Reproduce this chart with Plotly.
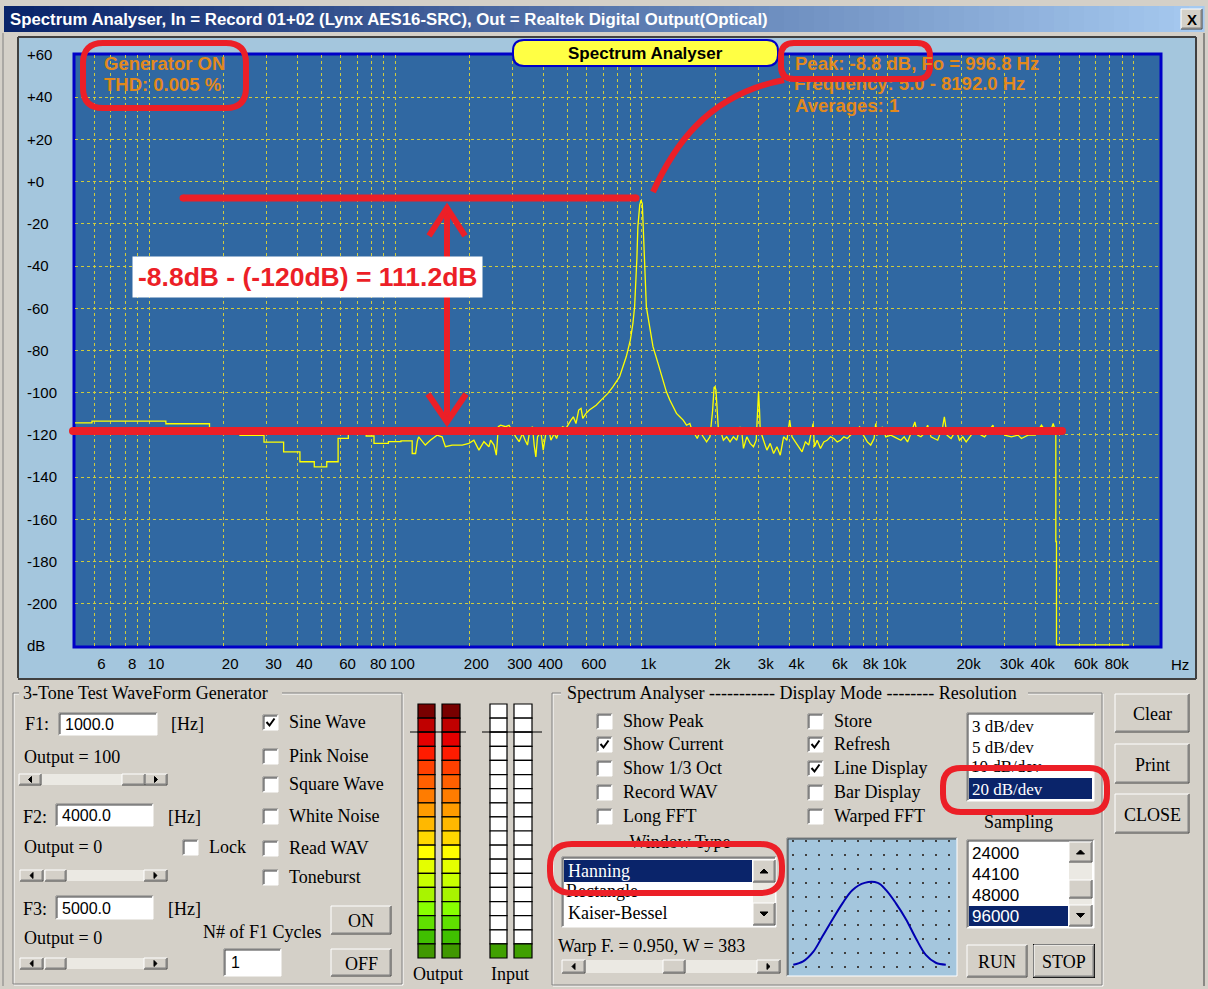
import plotly.graph_objects as go

W, H = 1208, 989

# ---------------- data ----------------
freq_hz = [
    5.0, 5.86, 5.86, 11.7, 11.7, 17.6, 17.6, 23.4, 23.4, 29.3, 29.3, 35.2, 35.2, 41.0, 41.0, 46.9,
    46.9, 52.7, 52.7, 58.6, 58.6, 64.5, 64.5, 76.2, 76.2, 82.0, 82.0, 93.8, 93.8, 105.5, 105.5, 117.2,
    117.2, 121.0, 123.0,
    124.5, 132.5, 138.9, 147.9, 155.0, 159.9, 170.3, 187.1, 199.2, 208.7, 218.8, 229.3, 240.3, 244.1,
    251.9, 257.5, 262.4, 268.2, 281.1, 290.0, 299.2, 308.9, 318.7, 328.8, 337.2, 344.6, 352.3, 361.2,
    366.9, 372.7, 378.6, 390.6, 399.3, 409.4, 419.8, 429.1, 442.8, 452.4, 464.0, 478.7, 494.0, 506.5,
    517.7, 529.2, 542.6, 556.4, 568.8, 578, 596, 615, 655, 686, 731, 766, 815, 868, 902, 924, 939, 959,
    968, 985, 996.8, 1009, 1015, 1031, 1048, 1081, 1115, 1169, 1225, 1264, 1305, 1346, 1389, 1433,
    1479, 1526, 1574, 1599, 1640, 1687, 1730, 1790, 1841, 1900, 1948, 1975, 1991, 2010, 2035, 2055,
    2087, 2154, 2222, 2293, 2366, 2441, 2519, 2559, 2599, 2682, 2767, 2855, 2928, 2965, 2993, 3021,
    3040, 3136, 3236, 3339, 3446, 3555, 3668, 3785, 3905, 4005, 4093, 4223, 4358, 4497, 4640, 4787,
    4986, 5050, 5178, 5343, 5512, 5688, 5869, 6055, 6248, 6447, 6652, 6864, 7082, 7308, 7707, 7903,
    8283, 8547, 8819, 8958, 9100, 9390, 9538, 9842, 10320, 10648, 10982, 11331, 11691, 12064, 12447,
    12922, 13252, 13674, 14109, 14557, 15020, 15993, 16759, 17024, 17454, 18125, 19001, 19607, 20230,
    20874, 21878, 22573, 24039, 24802, 26821, 27246, 29007, 29929, 31859, 33919, 34998, 37265, 39672,
    42234, 43575, 45674, 47124, 47868, 48300, 48300, 48600, 48600, 96000,
]
level_db = [
    -114.3, -114.3, -113.5, -113.5, -114.7, -114.7, -119.0, -119.0, -120.2, -120.2, -123.4, -123.4,
    -128.0, -128.0, -132.7, -132.7, -135.1, -135.1, -132.7, -132.7, -121.6, -121.6, -119.2, -119.2,
    -120.5, -120.5, -124.0, -124.0, -123.2, -123.2, -122.8, -122.8, -128.8, -128.8, -123.0,
    -120.9, -124.8, -122.5, -120.1, -120.9, -125.6, -124.8, -124.8, -124.0, -122.5, -127.2, -123.2,
    -125.6, -122.5, -124.8, -129.6, -116.1, -115.4, -116.1, -115.4, -118.5, -120.9, -123.2, -119.3,
    -122.5, -124.8, -117.7, -116.1, -124.8, -130.4, -120.9, -118.5, -127.2, -119.3, -116.9, -122.5,
    -119.3, -121.7, -117.7, -116.1, -116.9, -114.6, -113.0, -111.4, -114.6, -108.2, -107.4, -112.2,
    -109.8, -108.2, -105.9, -103.5, -100.3, -97.2, -92.5, -83.0, -75.1, -67.2, -59.3, -36.4, -21.4,
    -11.0, -8.8, -10.5, -19.0, -35.6, -59.3, -68.8, -78.2, -86.1, -94.8, -99.6, -103.5, -106.7, -109.8,
    -111.4, -113.0, -115.4, -114.6, -117.0, -119.5, -121.7, -118.5, -121.0, -123.3, -120.9, -108.3,
    -97.5, -97.2, -98.8, -108.3, -117.0, -117.0, -122.5, -120.9, -123.3, -120.9, -122.5, -116.2,
    -118.5, -126.4, -120.9, -124.0, -125.6, -122.5, -112.2, -99.6, -108.3, -117.7, -122.5, -127.2,
    -124.0, -128.8, -125.6, -129.6, -120.9, -122.5, -113.0, -120.9, -123.3, -125.6, -128.0, -123.3,
    -124.8, -114.6, -125.6, -122.5, -126.4, -123.3, -122.5, -120.9, -121.7, -123.3, -122.5, -120.9,
    -121.7, -120.1, -118.5, -116.2, -119.3, -123.3, -124.8, -121.7, -114.6, -120.1, -117.7, -116.2,
    -120.9, -120.1, -120.9, -121.7, -122.5, -120.9, -123.3, -119.3, -113.8, -120.1, -120.9, -119.3,
    -115.4, -120.9, -122.5, -116.2, -111.4, -120.1, -121.7, -117.7, -122.5, -120.9, -123.3, -120.1,
    -116.9, -120.1, -120.9, -115.4, -119.3, -116.9, -120.1, -120.9, -120.1, -121.7, -120.1, -120.1,
    -115.4, -117.7, -119.3, -114.6, -118.5, -119.0, -170.5, -170.5, -219.5, -219.5,
]

grid_freqs = [5, 6, 7, 8, 9, 10, 20, 30, 40, 50, 60, 70, 80, 90, 100, 200, 300, 400, 500, 600, 700,
              800, 900, 1000, 2000, 3000, 4000, 5000, 6000, 7000, 8000, 9000, 10000, 20000, 30000,
              40000, 50000, 60000, 70000, 80000, 90000, 100000]
freq_labels = {6: "6", 8: "8", 10: "10", 20: "20", 30: "30", 40: "40", 60: "60", 80: "80",
               100: "100", 200: "200", 300: "300", 400: "400", 600: "600", 1000: "1k",
               2000: "2k", 3000: "3k", 4000: "4k", 6000: "6k", 8000: "8k", 10000: "10k",
               20000: "20k", 30000: "30k", 40000: "40k", 60000: "60k", 80000: "80k"}
db_ticks = [-220, -200, -180, -160, -140, -120, -100, -80, -60, -40, -20, 0, 20, 40, 60]
db_labels = ["dB", "-200", "-180", "-160", "-140", "-120", "-100", "-80", "-60", "-40", "-20",
             "+0", "+20", "+40", "+60"]

window_pos = [0.02, 0.08, 0.14, 0.20, 0.26, 0.32, 0.38, 0.455, 0.535, 0.586, 0.646, 0.707, 0.768,
              0.828, 0.889, 0.95]
window_gain = [0.055, 0.08, 0.15, 0.274, 0.40, 0.52, 0.62, 0.675, 0.675, 0.62, 0.52, 0.40, 0.254,
               0.13, 0.07, 0.055]

output_meter_colors = ["#780000", "#c00000", "#e40000", "#ff1c00", "#ff4000", "#ff6000", "#ff7c00",
                       "#ff9c00", "#ffb800", "#ffd800", "#ffff00", "#e4ff00", "#c8ff00", "#a8f400",
                       "#88ff00", "#60e000", "#40c000", "#409800"]
input_meter_colors = ["#ffffff"] * 17 + ["#40a000"]

TITLE = "Spectrum Analyser, In = Record 01+02 (Lynx AES16-SRC), Out = Realtek Digital Output(Optical)"

# ---------------- helpers ----------------
SANS = "Liberation Sans, Arial, sans-serif"
SERIF = "Liberation Serif, Times New Roman, serif"
FACE = "#d4d0c8"
PANEL = "#a4c6dd"
RED = "#ec1f27"
ORANGE = "#e2891c"
NAVY = "#0a246a"
GRID = "#cfcb3e"

shapes, annotations = [], []


def X(x):
    return x / W


def Y(y):
    return 1 - y / H


def pth(d):
    res, cur = [], []
    for t in d.replace(",", " ").split():
        if t[0].isalpha():
            res.append(t)
        else:
            cur.append(float(t))
            if len(cur) == 2:
                res.append(f"{X(cur[0]):.5f},{Y(cur[1]):.5f}")
                cur = []
    return " ".join(res)


def rect(x0, y0, x1, y1, fill="rgba(0,0,0,0)", line=None, lw=1, layer="below"):
    shapes.append(dict(type="rect", xref="paper", yref="paper", x0=X(x0), x1=X(x1), y0=Y(y1),
                       y1=Y(y0), fillcolor=fill,
                       line=dict(color=line if line else "rgba(0,0,0,0)", width=lw if line else 0),
                       layer=layer))


def seg(x0, y0, x1, y1, color, lw=1, layer="below"):
    shapes.append(dict(type="line", xref="paper", yref="paper", x0=X(x0), y0=Y(y0), x1=X(x1),
                       y1=Y(y1), line=dict(color=color, width=lw), layer=layer))


def path(d, color="black", lw=1, fill=None, layer="below"):
    shapes.append(dict(type="path", xref="paper", yref="paper", path=pth(d),
                       line=dict(color=color, width=lw),
                       fillcolor=fill if fill else "rgba(0,0,0,0)", layer=layer))


def circ(cx, cy, r, color, layer="above"):
    shapes.append(dict(type="circle", xref="paper", yref="paper", x0=X(cx - r), x1=X(cx + r),
                       y0=Y(cy + r), y1=Y(cy - r), fillcolor=color, line=dict(width=0),
                       layer=layer))


def rrect_d(x0, y0, x1, y1, r):
    return (f"M {x0 + r} {y0} L {x1 - r} {y0} Q {x1} {y0} {x1} {y0 + r} L {x1} {y1 - r} "
            f"Q {x1} {y1} {x1 - r} {y1} L {x0 + r} {y1} Q {x0} {y1} {x0} {y1 - r} "
            f"L {x0} {y0 + r} Q {x0} {y0} {x0 + r} {y0} Z")


def txt(x, y, s, size=18, color="black", family=SERIF, anchor="left", bold=False):
    annotations.append(dict(xref="paper", yref="paper", x=X(x), y=Y(y),
                            text=f"<b>{s}</b>" if bold else s, showarrow=False, xanchor=anchor,
                            yanchor="middle", borderpad=0,
                            font=dict(size=size, color=color, family=family)))


def raised(x0, y0, x1, y1, default=False):
    if default:
        rect(x0 - 1, y0 - 1, x1 + 1, y1 + 1, fill="black")
    rect(x0, y0, x1, y1, fill=FACE)
    seg(x0, y0, x1, y0, "white")
    seg(x0, y0, x0, y1, "white")
    seg(x0, y1, x1, y1, "#404040")
    seg(x1, y0, x1, y1, "#404040")
    seg(x0 + 1, y1 - 1, x1 - 1, y1 - 1, "#808080")
    seg(x1 - 1, y0 + 1, x1 - 1, y1 - 1, "#808080")


def sunken(x0, y0, x1, y1, fill="white"):
    rect(x0, y0, x1, y1, fill=fill)
    seg(x0, y0, x1, y0, "#808080")
    seg(x0, y0, x0, y1, "#808080")
    seg(x0 + 1, y0 + 1, x1 - 1, y0 + 1, "#404040")
    seg(x0 + 1, y0 + 1, x0 + 1, y1 - 1, "#404040")
    seg(x0, y1, x1, y1, "white")
    seg(x1, y0, x1, y1, "white")


def button(x0, y0, x1, y1, label, default=False):
    raised(x0, y0, x1, y1, default)
    txt((x0 + x1) / 2, (y0 + y1) / 2 + 1, label, 18, anchor="center")


def checkbox(x, yc, label, checked=False):
    sunken(x, yc - 7, x + 15, yc + 8)
    if checked:
        path(f"M {x + 3.5} {yc} L {x + 6.5} {yc + 3.5} L {x + 11.5} {yc - 3.5}", "black", 2)
    txt(x + 25, yc, label, 18)


def arrow_btn(x0, y0, x1, y1, direction):
    raised(x0, y0, x1, y1)
    cx, cy = (x0 + x1) / 2, (y0 + y1) / 2
    if direction == "left":
        d = f"M {cx + 1.5} {cy - 3} L {cx - 1.5} {cy} L {cx + 1.5} {cy + 3} Z"
    elif direction == "right":
        d = f"M {cx - 1.5} {cy - 3} L {cx + 1.5} {cy} L {cx - 1.5} {cy + 3} Z"
    elif direction == "up":
        d = f"M {cx - 4} {cy + 2} L {cx} {cy - 2} L {cx + 4} {cy + 2} Z"
    else:
        d = f"M {cx - 4} {cy - 2} L {cx} {cy + 2} L {cx + 4} {cy - 2} Z"
    path(d, "black", 1, "black")


def hslider(x0, x1, y0, y1, t0, t1, bw):
    rect(x0, y0, x1, y1, fill="#ebe9e3")
    arrow_btn(x0, y0, x0 + bw, y1, "left")
    arrow_btn(x1 - bw, y0, x1, y1, "right")
    raised(t0, y0, t1, y1)


def group(x0, y0, x1, y1, tx0, tx1):
    rect(x0 + 1, y0 + 1, x1 + 1, y1 + 1, line="white")
    rect(x0, y0, x1, y1, line="#808080")
    rect(tx0, y0 - 9, tx1, y0 + 9, fill=FACE)


# ---------------- window chrome ----------------
n_strips = 80
c0, c1 = (10, 36, 106), (166, 202, 240)
for i in range(n_strips):
    t = i / (n_strips - 1)
    col = "rgb({},{},{})".format(*[int(a + (b - a) * t) for a, b in zip(c0, c1)])
    xa = 4 + 1200 * i / n_strips
    rect(xa, 6, xa + 1200 / n_strips + 0.6, 32, fill=col)
txt(9, 19.5, TITLE, 16.8, "white", SANS, bold=True)
raised(1181, 9, 1202, 29)
txt(1191.5, 19.5, "X", 15, "black", SANS, anchor="center", bold=True)
seg(3, 33, 3, 986, "#808080")
seg(1204, 33, 1204, 986, "#404040")

# chart panel
rect(18, 37, 1196, 678, fill=PANEL)
seg(18, 37, 1196, 37, "#404040", 2)
seg(18, 37, 18, 678, "#404040", 2)
seg(1196, 37, 1196, 679, "#404040", 2)
seg(18, 679, 1196, 679, "#404040", 2)

# plot area
rect(75, 55, 1160, 646, fill="#3068a2")
rect(74, 54, 1161, 647, line="#0000c8", lw=3)

# ---------------- bottom: generator group ----------------
group(13, 693, 402, 984, 19, 282)
txt(22, 693, "3-Tone Test WaveForm Generator", 18)
txt(24, 724, "F1:", 18)
sunken(59, 713, 157, 735)
txt(64, 724, "1000.0", 16, family=SANS)
txt(170, 724, "[Hz]", 18)
txt(23, 757, "Output = 100", 18)
hslider(19, 167, 774, 785, 122, 145, 22)
txt(22, 817, "F2:", 18)
sunken(56, 804, 153, 826)
txt(61, 815, "4000.0", 16, family=SANS)
txt(167, 817, "[Hz]", 18)
txt(23, 847, "Output = 0", 18)
checkbox(183, 847, "Lock")
hslider(20, 167, 870, 881, 45, 66, 23)
txt(22, 909, "F3:", 18)
sunken(56, 896, 153, 919)
txt(61, 908, "5000.0", 16, family=SANS)
txt(167, 909, "[Hz]", 18)
txt(23, 938, "Output = 0", 18)
hslider(20, 167, 958, 969, 45, 66, 23)
for yc, lab, chk in [(722, "Sine Wave", True), (756, "Pink Noise", False),
                     (784, "Square Wave", False), (816, "White Noise", False),
                     (848, "Read WAV", False), (877, "Toneburst", False)]:
    checkbox(263, yc, lab, chk)
txt(202, 932, "N# of F1 Cycles", 18)
sunken(224, 949, 281, 976)
txt(230, 962, "1", 16, family=SANS)
button(331, 906, 391, 934, "ON")
button(331, 949, 391, 976, "OFF")

# ---------------- level meters ----------------
seg_h = (958 - 704) / 18
for xa, xb, cols in [(418, 435, output_meter_colors), (442, 460, output_meter_colors),
                     (490, 507, input_meter_colors), (514, 532, input_meter_colors)]:
    for k, c in enumerate(cols):
        rect(xa, 704 + k * seg_h, xb, 704 + (k + 1) * seg_h, fill=c, line="black", lw=1.2)
seg(410, 732, 466, 732, "black", 1.2)
seg(482, 732, 542, 732, "black", 1.2)
txt(438, 974, "Output", 18, anchor="center")
txt(510, 974, "Input", 18, anchor="center")

# ---------------- analyser group ----------------
group(552, 693, 1102, 985, 561, 1028)
txt(566, 693, "Spectrum Analyser ----------- Display Mode -------- Resolution", 18)
for yc, lab, chk in [(721, "Show Peak", False), (744, "Show Current", True),
                     (768, "Show 1/3 Oct", False), (792, "Record WAV", False),
                     (816, "Long FFT", False)]:
    checkbox(597, yc, lab, chk)
for yc, lab, chk in [(721, "Store", False), (744, "Refresh", True), (768, "Line Display", True),
                     (792, "Bar Display", False), (816, "Warped FFT", False)]:
    checkbox(808, yc, lab, chk)

# window type listbox
sunken(562, 857, 776, 927)
rect(564, 860, 752, 882, fill=NAVY)
txt(567, 871, "Hanning", 18, "white")
txt(567, 913, "Kaiser-Bessel", 18)
rect(753, 882, 775, 903, fill="#ebe9e3")
arrow_btn(753, 860, 775, 882, "up")
arrow_btn(753, 903, 775, 925, "down")
txt(557, 946, "Warp F. = 0.950, W = 383", 18)
hslider(562, 780, 960, 973, 663, 685, 23)

# mini window plot
sunken(787, 838, 957, 976, fill=PANEL)

# resolution listbox
sunken(967, 713, 1094, 801)
txt(971, 726, "3 dB/dev", 17)
txt(971, 747, "5 dB/dev", 17)
rect(969, 778, 1092, 799, fill=NAVY)
txt(971, 789, "20 dB/dev", 17, "white")
txt(1018, 822, "Sampling", 18, anchor="center")

# sampling listbox
sunken(967, 840, 1094, 928)
txt(971, 853, "24000", 17, family=SANS)
txt(971, 874, "44100", 17, family=SANS)
txt(971, 895, "48000", 17, family=SANS)
rect(969, 906, 1068, 926, fill=NAVY)
txt(971, 916, "96000", 17, "white", SANS)
rect(1069, 862, 1092, 905, fill="#ebe9e3")
arrow_btn(1069, 842, 1092, 862, "up")
raised(1069, 880, 1092, 898)
arrow_btn(1069, 905, 1092, 926, "down")

button(967, 945, 1027, 977, "RUN")
button(1034, 945, 1094, 977, "STOP", default=True)
button(1115, 694, 1189, 732, "Clear")
button(1115, 744, 1189, 783, "Print")
button(1115, 794, 1189, 833, "CLOSE")

# ---------------- chart texts ----------------
path(rrect_d(513, 40, 778, 66, 11), "#0000c8", 2, "#ffff44", layer="above")
txt(645, 53, "Spectrum Analyser", 17, "black", SANS, anchor="center", bold=True)
txt(103, 64, "Generator ON", 18.5, ORANGE, SANS, bold=True)
txt(103, 85, "THD: 0.005 %", 18.5, ORANGE, SANS, bold=True)
txt(794, 64, "Peak: -8.8 dB, Fo = 996.8 Hz", 18.5, ORANGE, SANS, bold=True)
txt(794, 106, "Averages: 1", 18.5, ORANGE, SANS, bold=True)
txt(1170, 664, "Hz", 15, "black", SANS)

# ---------------- red hand-drawn markup ----------------
path(rrect_d(83, 43, 246, 108, 20), RED, 6, layer="above")
path(rrect_d(781, 43, 930, 79, 13), RED, 6, layer="above")
path("M 653 192 C 672 150 705 95 784 80", RED, 6, layer="above")
seg(183, 198, 636, 198, RED, 7, layer="above")
circ(183, 198, 3.5, RED)
circ(636, 198, 3.5, RED)
seg(73, 431, 1062, 431, RED, 8, layer="above")
circ(73, 431, 4, RED)
circ(1062, 431, 4, RED)
seg(447, 207, 447, 423, RED, 6, layer="above")
path("M 429 236 L 447 208 L 465 236", RED, 6, layer="above")
path("M 428 394 L 447 422 L 466 394", RED, 6, layer="above")
path(rrect_d(550, 844, 782, 893, 22), RED, 6, layer="above")
path(rrect_d(943, 768, 1107, 812, 18), RED, 6, layer="above")
annotations.append(dict(xref="paper", yref="paper", x=X(132), y=Y(277),
                        text="<b>-8.8dB - (-120dB) = 111.2dB</b>", showarrow=False,
                        xanchor="left", yanchor="middle", bgcolor="white", borderpad=5,
                        font=dict(size=26.5, color=RED, family=SANS)))

# ---------------- figure ----------------
fig = go.Figure()
fig.add_trace(go.Scatter(x=freq_hz, y=level_db, mode="lines", xaxis="x", yaxis="y",
                         line=dict(color="#ffff00", width=1.3), hoverinfo="skip"))
fig.add_trace(go.Scatter(x=window_pos, y=window_gain, mode="lines", xaxis="x2", yaxis="y2",
                         line=dict(color="#0000b0", width=2, shape="spline"), hoverinfo="skip"))
# texts partly hidden below the red markup
fig.add_trace(go.Scatter(x=[794], y=[85], mode="text", xaxis="x3", yaxis="y3",
                         text=["<b>Frequency: 5.0 - 8192.0 Hz</b>"], textposition="middle right",
                         textfont=dict(family=SANS, size=18.5, color=ORANGE), hoverinfo="skip"))
fig.add_trace(go.Scatter(x=[680, 566, 971], y=[843, 892, 768], mode="text", xaxis="x3",
                         yaxis="y3", text=["Window Type", "Rectangle", "10 dB/dev"],
                         textposition=["middle center", "middle right", "middle right"],
                         textfont=dict(family=SERIF, size=[18, 18, 17], color="black"),
                         hoverinfo="skip"))

import math
fig.update_layout(
    width=W, height=H, margin=dict(l=0, r=0, t=0, b=0), autosize=False,
    template="none", paper_bgcolor=FACE, plot_bgcolor="rgba(0,0,0,0)", showlegend=False,
    font=dict(family=SANS, color="black"),
    xaxis=dict(type="log", domain=[X(75), X(1160)], range=[math.log10(5), math.log10(128000)],
               tickvals=grid_freqs, ticktext=[freq_labels.get(f, "") for f in grid_freqs],
               showgrid=True, gridcolor=GRID, griddash="dot", gridwidth=1,
               zeroline=False, showline=False, ticks="", ticklabelshift=7,
               ticklabelstandoff=7, tickfont=dict(size=15, family=SANS, color="black"),
               automargin=False, fixedrange=True, anchor="y"),
    yaxis=dict(domain=[Y(646), Y(55)], range=[-220, 60], tickvals=db_ticks, ticktext=db_labels,
               side="right", anchor="free", position=X(26),
               showgrid=True, gridcolor=GRID, griddash="dot", gridwidth=1,
               zeroline=False, showline=False, ticks="", ticklabelstandoff=0,
               tickfont=dict(size=15, family=SANS, color="black"), automargin=False,
               fixedrange=True),
    xaxis2=dict(domain=[X(790), X(954)], range=[0, 1], anchor="y2", showticklabels=False,
                ticks="", zeroline=False, showline=False, showgrid=True, tick0=0.02,
                dtick=0.079, gridcolor="#404040", griddash="1.5px,12.5px", gridwidth=1.5,
                fixedrange=True),
    yaxis2=dict(domain=[Y(972), Y(840)], range=[0, 1], anchor="x2", showticklabels=False,
                ticks="", zeroline=False, showline=False, showgrid=False, fixedrange=True),
    xaxis3=dict(domain=[0, 1], range=[0, W], anchor="y3", visible=False, fixedrange=True),
    yaxis3=dict(domain=[0, 1], range=[H, 0], anchor="x3", visible=False, fixedrange=True),
    shapes=shapes, annotations=annotations,
)

fig.write_html("out.html", include_plotlyjs=True, config={"displayModeBar": False},
               post_script="document.body.style.margin='0';document.body.style.overflow='hidden';")
